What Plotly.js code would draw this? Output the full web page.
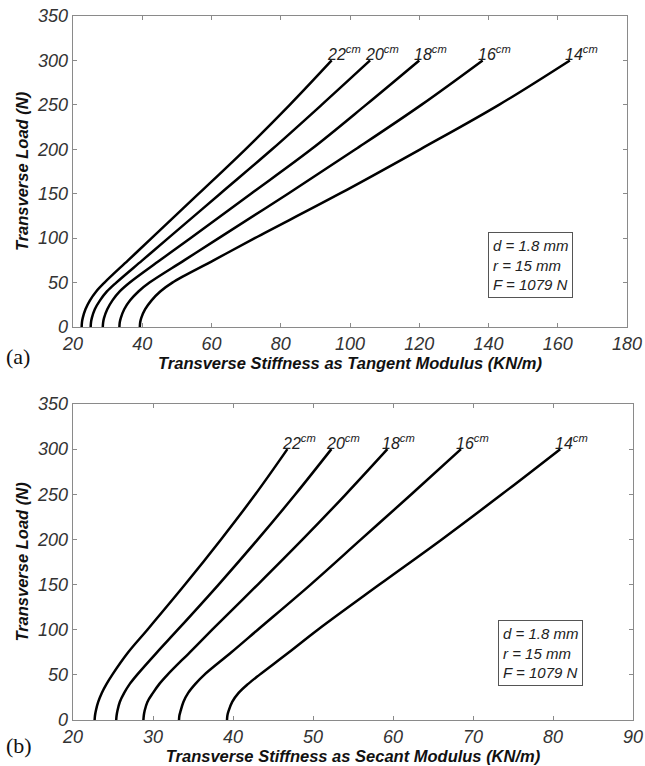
<!DOCTYPE html>
<html>
<head>
<meta charset="utf-8">
<script src="https://cdn.plot.ly/plotly-3.0.1.min.js"></script>
<style>
  html, body { margin: 0; padding: 0; background: #ffffff; }
  #chart { width: 645px; height: 766px; }
</style>
</head>
<body>
<div id="chart"></div>
<script>
// ---- data ----
const loadN = [0, 5, 10, 20, 30, 40, 50, 75, 100, 150, 200, 250, 300];
const spanLabels = ['22', '20', '18', '16', '14'];

// (a) tangent modulus, KN/m
const tan22 = [22.5, 22.58, 22.8, 23.6, 24.9, 26.7, 29.1, 35.9, 42.7, 56.3, 69.8, 82.6, 94.7];
const tan20 = [25.1, 25.19, 25.43, 26.3, 27.8, 29.8, 32.5, 40.0, 47.5, 62.5, 77.5, 91.8, 105.8];
const tan18 = [28.6, 28.7, 28.95, 29.9, 31.4, 33.5, 36.4, 45.1, 53.9, 71.4, 88.8, 104.6, 120.0];
const tan16 = [33.4, 33.5, 33.8, 34.8, 36.5, 38.9, 42.1, 52.1, 62.1, 82.1, 101.6, 120.6, 138.3];
const tan14 = [39.3, 39.4, 39.7, 40.85, 42.7, 45.2, 48.7, 60.6, 72.5, 97.0, 120.3, 143.0, 163.5];

// (b) secant modulus, KN/m
const sec22 = [22.7, 22.75, 22.85, 23.15, 23.6, 24.2, 24.9, 26.9, 29.3, 34.0, 38.5, 42.8, 46.8];
const sec20 = [25.4, 25.45, 25.55, 25.85, 26.4, 27.1, 28.0, 30.5, 33.1, 38.2, 43.1, 47.8, 52.3];
const sec18 = [28.8, 28.85, 28.95, 29.3, 30.0, 30.8, 31.8, 34.6, 37.4, 43.1, 48.7, 54.1, 59.3];
const sec16 = [33.25, 33.3, 33.45, 33.8, 34.4, 35.3, 36.4, 39.8, 43.1, 49.7, 56.0, 62.3, 68.5];
const sec14 = [39.25, 39.3, 39.45, 39.9, 40.7, 41.9, 43.3, 47.0, 50.6, 58.3, 66.1, 73.6, 80.9];

const yTicks = [0, 50, 100, 150, 200, 250, 300, 350];
const xTicksA = [20, 40, 60, 80, 100, 120, 140, 160, 180];
const xTicksB = [20, 30, 40, 50, 60, 70, 80, 90];
const paramText = 'd = 1.8 mm<br>r = 15 mm<br>F = 1079 N';

// ---- build ----
const tanSeries = [tan22, tan20, tan18, tan16, tan14];
const secSeries = [sec22, sec20, sec18, sec16, sec14];

const traces = [];
const annotations = [];
const labelFont = {family: 'Liberation Sans, Arial, sans-serif', size: 16, color: '#222', style: 'italic'};

function addPanel(series, xa, ya) {
  series.forEach((s, i) => {
    traces.push({x: s, y: loadN, xaxis: xa, yaxis: ya, mode: 'lines',
      line: {color: '#000', width: 2.5, shape: 'spline', smoothing: 1}, hoverinfo: 'skip', showlegend: false});
    annotations.push({x: s[s.length - 1], y: loadN[loadN.length - 1], xref: xa, yref: ya,
      text: spanLabels[i] + '<sup>cm</sup>', showarrow: false, xanchor: 'left', yanchor: 'bottom',
      xshift: -7, yshift: -5, font: labelFont});
  });
}
addPanel(tanSeries, 'x', 'y');
addPanel(secSeries, 'x2', 'y2');

const boxFont = {family: 'Liberation Sans, Arial, sans-serif', size: 15, color: '#222', style: 'italic'};
annotations.push({x: 139.9, y: 107, xref: 'x', yref: 'y', text: paramText, showarrow: false,
  xanchor: 'left', yanchor: 'top', align: 'left', bordercolor: '#555', borderwidth: 1, borderpad: 4,
  bgcolor: '#fff', font: boxFont});
annotations.push({x: 73.1, y: 111, xref: 'x2', yref: 'y2', text: paramText, showarrow: false,
  xanchor: 'left', yanchor: 'top', align: 'left', bordercolor: '#555', borderwidth: 1, borderpad: 4,
  bgcolor: '#fff', font: boxFont});

const panelFont = {family: 'Liberation Serif, Times New Roman, serif', size: 22, color: '#111'};
annotations.push({x: 4 / 645, y: 1 - 356 / 766, xref: 'paper', yref: 'paper', text: '(a)', showarrow: false,
  xanchor: 'left', yanchor: 'middle', font: panelFont});
annotations.push({x: 4 / 645, y: 1 - 745 / 766, xref: 'paper', yref: 'paper', text: '(b)', showarrow: false,
  xanchor: 'left', yanchor: 'middle', font: panelFont});

const tickFont = {family: 'Liberation Sans, Arial, sans-serif', size: 18, color: '#333', style: 'italic'};
const titleFont = {family: 'Liberation Sans, Arial, sans-serif', size: 16.5, color: '#111', style: 'italic', weight: 'bold'};

function axisCommon() {
  return {showline: true, linecolor: '#8a8a8a', linewidth: 1.3, mirror: 'ticks', ticks: 'inside',
    ticklen: 4, tickcolor: '#8a8a8a', showgrid: false, zeroline: false, tickfont: tickFont,
    fixedrange: true};
}

const layout = {
  width: 645, height: 766,
  margin: {l: 0, r: 0, t: 0, b: 0},
  paper_bgcolor: '#fff', plot_bgcolor: '#fff',
  showlegend: false,
  xaxis: Object.assign(axisCommon(), {domain: [73/645, 627/645], anchor: 'y', range: [20, 180],
    tickvals: xTicksA, ticktext: xTicksA.map(String),
    title: {text: 'Transverse Stiffness as Tangent Modulus (KN/m)', font: titleFont, standoff: 3}}),
  yaxis: Object.assign(axisCommon(), {domain: [1 - 327/766, 1 - 16/766], anchor: 'x', range: [0, 350],
    tickvals: yTicks, ticktext: yTicks.map(String),
    title: {text: 'Transverse Load (N)', font: titleFont, standoff: 4}}),
  xaxis2: Object.assign(axisCommon(), {domain: [73/645, 633/645], anchor: 'y2', range: [20, 90],
    tickvals: xTicksB, ticktext: xTicksB.map(String),
    title: {text: 'Transverse Stiffness as Secant Modulus (KN/m)', font: titleFont, standoff: 3}}),
  yaxis2: Object.assign(axisCommon(), {domain: [1 - 720/766, 1 - 404/766], anchor: 'x2', range: [0, 350],
    tickvals: yTicks, ticktext: yTicks.map(String),
    title: {text: 'Transverse Load (N)', font: titleFont, standoff: 4}}),
  annotations: annotations
};

Plotly.newPlot('chart', traces, layout, {displayModeBar: false, staticPlot: true});
</script>
</body>
</html>
